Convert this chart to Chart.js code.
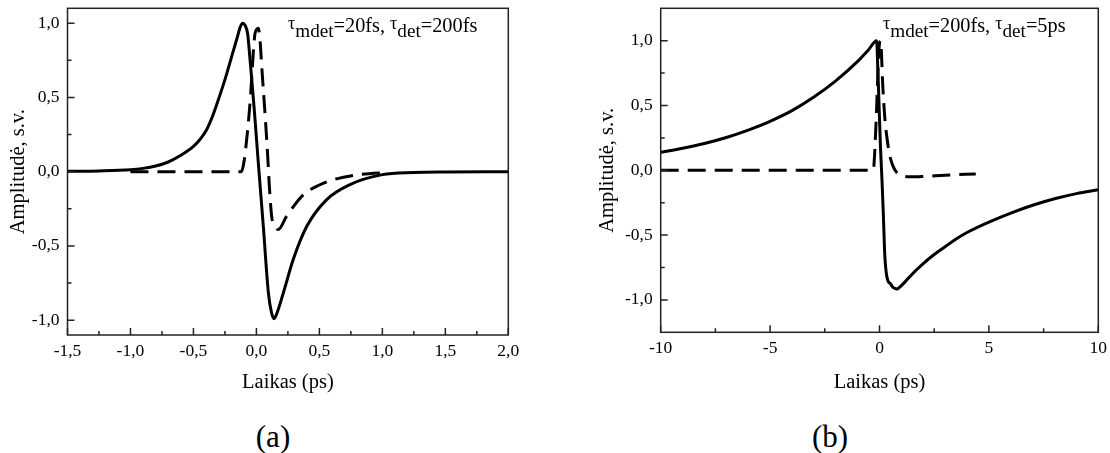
<!DOCTYPE html>
<html>
<head>
<meta charset="utf-8">
<script src="https://cdn.jsdelivr.net/npm/chart.js@4"></script>
<style>
  body { margin: 0; background: #fff; width: 1110px; height: 453px; position: relative; overflow: hidden; font-family: "Liberation Serif", "Times New Roman", serif; }
  canvas { position: absolute; top: 0; }
  #chartA { left: 0; }
  #chartB { left: 555px; }
  .caption { position: absolute; top: 421px; font-size: 31px; line-height: 1; color: #000; transform: translateX(-50%); }
</style>
</head>
<body>
<canvas id="chartA" width="540" height="410"></canvas>
<canvas id="chartB" width="555" height="410"></canvas>
<div class="caption" style="left:273px">(a)</div>
<div class="caption" style="left:830px">(b)</div>
<script>
// (a) tau_mdet = 20 fs, tau_det = 200 fs
const timeA = [-1.5, -1.25, -1.0, -0.9, -0.8, -0.7, -0.6, -0.5, -0.45, -0.4, -0.35, -0.3, -0.25, -0.2, -0.15, -0.13, -0.11, -0.09, -0.07, -0.05, -0.017, 0.015, 0.055, 0.095, 0.12, 0.14, 0.16, 0.214, 0.293, 0.4, 0.558, 0.743, 1.0, 1.25, 1.5, 2.0];
const ampA = [0.002, 0.005, 0.013, 0.022, 0.038, 0.065, 0.11, 0.17, 0.215, 0.275, 0.37, 0.49, 0.62, 0.765, 0.91, 0.97, 1.0, 0.985, 0.93, 0.75, 0.417, 0.06, -0.37, -0.816, -0.95, -0.99, -0.96, -0.816, -0.59, -0.368, -0.188, -0.087, -0.02, -0.006, -0.002, 0.0];

const timeA2 = [-1.0, -0.5, -0.12, -0.1, -0.064, -0.045, -0.025, -0.011, 0.015, 0.03, 0.042, 0.068, 0.09, 0.1, 0.121, 0.15, 0.174, 0.24, 0.373, 0.5, 0.611, 0.82, 1.05];
const ampA2 = [0, 0, 0, 0.06, 0.33, 0.53, 0.8, 0.93, 0.966, 0.87, 0.71, 0.395, 0.1, -0.06, -0.3, -0.37, -0.39, -0.3, -0.155, -0.09, -0.054, -0.02, -0.005];

// (b) tau_mdet = 200 fs, tau_det = 5 ps
const timeB = [-10, -9, -8, -7, -6, -5, -4, -3, -2, -1, -0.5, -0.13, -0.08, -0.02, 0.04, 0.12, 0.18, 0.24, 0.3, 0.38, 0.5, 0.6, 0.7, 0.8, 0.9, 1.0, 1.2, 1.5, 2.0, 2.5, 3.0, 3.5, 4.0, 5.0, 6.0, 7.0, 8.0, 9.0, 10.0];
const ampB = [0.139, 0.17, 0.207, 0.253, 0.31, 0.378, 0.46, 0.565, 0.69, 0.84, 0.93, 1.0, 0.8, 0.5, 0.2, -0.1, -0.36, -0.65, -0.78, -0.85, -0.875, -0.9, -0.912, -0.915, -0.905, -0.89, -0.855, -0.8, -0.72, -0.65, -0.59, -0.53, -0.48, -0.4, -0.33, -0.27, -0.22, -0.18, -0.15];

const timeB2 = [-10, -5, -0.3, -0.25, -0.15, -0.05, 0.0, 0.05, 0.15, 0.25, 0.35, 0.45, 0.6, 0.8, 1.0, 1.4, 2.0, 3.0, 4.4];
const ampB2 = [0, 0, 0, 0.05, 0.4, 0.85, 0.98, 1.0, 0.65, 0.39, 0.24, 0.13, 0.04, -0.02, -0.04, -0.05, -0.047, -0.038, -0.028];

// tick positions
const xMajorA = [-1.5, -1.0, -0.5, 0.0, 0.5, 1.0, 1.5, 2.0];
const xMinorA = [-1.25, -0.75, -0.25, 0.25, 0.75, 1.25, 1.75];
const xMajorB = [-10, -5, 0, 5, 10];
const xMinorB = [-7.5, -2.5, 2.5, 7.5];
const yMajor = [-1.0, -0.5, 0.0, 0.5, 1.0];
const yMinor = [-0.75, -0.25, 0.25, 0.75];

const serif = '"Liberation Serif", "Times New Roman", serif';

const toPoints = (xs, ys) => xs.map((x, i) => ({ x, y: ys[i] }));
const comma = (v) => v.toFixed(1).replace('.', ',');

// box around the plot plus inward ticks
const frameTicks = {
  id: 'frameTicks',
  afterDraw(chart, args, opts) {
    const { ctx, chartArea: a, scales: { x, y } } = chart;
    ctx.save();
    ctx.strokeStyle = '#222';
    ctx.lineWidth = 1.5;
    ctx.beginPath();
    const xTick = (v, len) => { const p = x.getPixelForValue(v); ctx.moveTo(p, a.bottom); ctx.lineTo(p, a.bottom - len); };
    const yTick = (v, len) => { const p = y.getPixelForValue(v); ctx.moveTo(a.left, p); ctx.lineTo(a.left + len, p); };
    opts.xMajor.forEach((v) => xTick(v, 7));
    opts.xMinor.forEach((v) => xTick(v, 4));
    opts.yMajor.forEach((v) => yTick(v, 7));
    opts.yMinor.forEach((v) => yTick(v, 4));
    ctx.stroke();
    ctx.strokeRect(a.left, a.top, a.right - a.left, a.bottom - a.top);
    ctx.restore();
  },
};

// "τ_mdet=..., τ_det=..." label with subscripts
const tauLabel = {
  id: 'tauLabel',
  afterDraw(chart, args, opts) {
    const { ctx } = chart;
    ctx.save();
    ctx.fillStyle = '#000';
    ctx.textBaseline = 'alphabetic';
    let x = opts.x;
    const y = opts.y;
    for (const part of opts.parts) {
      let size = 20.3, dy = 0;
      if (part.sub) { size = 19.2; dy = 5; }
      if (part.tau) { size = 18; dy = -3; }
      ctx.font = `${size}px ${serif}`;
      ctx.fillText(part.text, x, y + dy);
      x += ctx.measureText(part.text).width;
    }
    ctx.restore();
  },
};

function makeChart(id, cfg) {
  return new Chart(document.getElementById(id), {
    type: 'line',
    data: {
      datasets: [
        {
          data: cfg.solid,
          borderColor: '#000',
          borderWidth: 3,
          pointRadius: 0,
          cubicInterpolationMode: 'monotone',
          borderJoinStyle: 'round',
        },
        {
          data: cfg.dashed,
          borderColor: '#000',
          borderWidth: 3,
          borderDash: [18, 9],
          pointRadius: 0,
          cubicInterpolationMode: 'monotone',
        },
      ],
    },
    options: {
      responsive: false,
      animation: false,
      layout: { padding: cfg.padding },
      plugins: {
        legend: { display: false },
        tooltip: { enabled: false },
        frameTicks: { xMajor: cfg.xMajor, xMinor: cfg.xMinor, yMajor, yMinor },
        tauLabel: cfg.label,
      },
      scales: {
        x: {
          type: 'linear',
          min: cfg.xMin,
          max: cfg.xMax,
          grid: { display: false, drawTicks: false },
          border: { display: false },
          afterBuildTicks: (s) => { s.ticks = cfg.xMajor.map((value) => ({ value })); },
          afterFit: (s) => { s.height = cfg.xHeight; s.paddingLeft = 0; s.paddingRight = 0; },
          ticks: {
            autoSkip: false,
            maxRotation: 0,
            padding: 6,
            color: '#000',
            font: { family: serif, size: 17.5 },
            callback: cfg.xFormat,
          },
          title: {
            display: true,
            text: 'Laikas (ps)',
            color: '#000',
            font: { family: serif, size: 20.5, lineHeight: 1.2 },
            padding: { top: 0, bottom: 14.7 },
          },
        },
        y: {
          min: -cfg.yLim,
          max: cfg.yLim,
          grid: { display: false, drawTicks: false },
          border: { display: false },
          afterBuildTicks: (s) => { s.ticks = yMajor.map((value) => ({ value })); },
          afterFit: (s) => { s.width = cfg.yWidth; s.paddingTop = 0; s.paddingBottom = 0; },
          ticks: {
            padding: 8,
            color: '#000',
            font: { family: serif, size: 17.5 },
            callback: comma,
          },
          title: {
            display: true,
            text: 'Amplitudė, s.v.',
            color: '#000',
            font: { family: serif, size: 20.5, lineHeight: 1.2 },
            padding: { top: cfg.yTitlePad, bottom: 0 },
          },
        },
      },
    },
    plugins: [frameTicks, tauLabel],
  });
}

makeChart('chartA', {
  solid: toPoints(timeA, ampA),
  dashed: toPoints(timeA2, ampA2),
  xMin: -1.5, xMax: 2.0, yLim: 1.1,
  xMajor: xMajorA, xMinor: xMinorA,
  xFormat: comma,
  padding: { left: 0, top: 8.3, right: 31.7, bottom: 0 },
  yWidth: 67.5, xHeight: 75, yTitlePad: 6.2,
  label: {
    x: 288, y: 32,
    parts: [
      { text: 'τ', tau: true }, { text: 'mdet', sub: true }, { text: '=20fs, ' },
      { text: 'τ', tau: true }, { text: 'det', sub: true }, { text: '=200fs' },
    ],
  },
});

makeChart('chartB', {
  solid: toPoints(timeB, ampB),
  dashed: toPoints(timeB2, ampB2),
  xMin: -10, xMax: 10, yLim: 1.25,
  xMajor: xMajorB, xMinor: xMinorB,
  xFormat: (v) => String(v),
  padding: { left: 0, top: 8.3, right: 11.7, bottom: 0 },
  yWidth: 105.7, xHeight: 77.7, yTitlePad: 40.1,
  label: {
    x: 328, y: 32,
    parts: [
      { text: 'τ', tau: true }, { text: 'mdet', sub: true }, { text: '=200fs, ' },
      { text: 'τ', tau: true }, { text: 'det', sub: true }, { text: '=5ps' },
    ],
  },
});
</script>
</body>
</html>
